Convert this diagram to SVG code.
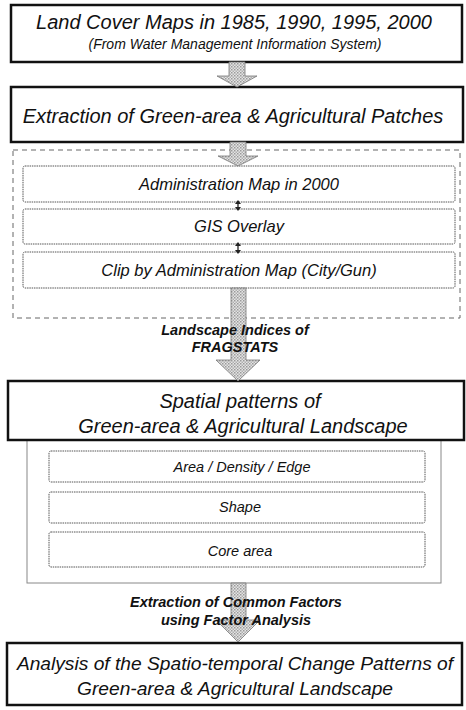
<svg xmlns="http://www.w3.org/2000/svg" width="466" height="710" viewBox="0 0 466 710">
  <defs>
    <pattern id="halftone" width="3" height="3" patternUnits="userSpaceOnUse">
      <rect width="3" height="3" fill="#e4e4e4"/>
      <rect x="0" y="0" width="1.5" height="1.5" fill="#9a9a9a"/>
      <rect x="1.5" y="1.5" width="1.5" height="1.5" fill="#b0b0b0"/>
    </pattern>
  </defs>
  <style>
    text { font-family: "Liberation Sans", Arial, sans-serif; font-style: italic; fill: #111; text-anchor: middle; }
    .main { stroke: #111; stroke-width: 2.5; fill: #fff; }
    .group { stroke: #666; stroke-width: 1; fill: none; stroke-dasharray: 5 4; }
    .frame { stroke: #888; stroke-width: 1; fill: #fff; }
    .step { stroke: #555; stroke-width: 1; fill: #fff; stroke-dasharray: 1.5 0.8; }
    .flow { fill: url(#halftone); stroke: #777; stroke-width: 0.8; }
    .link { stroke: #222; stroke-width: 1.3; fill: none; }
    .head { fill: #222; stroke: none; }
    .big { font-size: 20px; }
    .end { font-size: 19.2px; }
    .mid { font-size: 16.5px; }
    .small { font-size: 14.5px; }
    .sub { font-size: 14px; }
    .note { font-size: 14.5px; font-weight: bold; }
  </style>

  <g id="land-cover">
    <rect class="main" x="11" y="5" width="451" height="57"/>
    <text class="big" x="234" y="29">Land Cover Maps in 1985, 1990, 1995, 2000</text>
    <text class="sub" x="235" y="49">(From Water Management Information System)</text>
  </g>

  <g id="extraction">
    <rect class="main" x="11" y="87" width="452" height="55"/>
    <text class="big" x="233" y="123">Extraction of Green-area &amp; Agricultural Patches</text>
  </g>

  <g id="admin-group">
    <rect class="group" x="13" y="150" width="447" height="168"/>
  </g>

  <g id="admin-map">
    <rect class="step" x="23" y="166" width="432" height="36" rx="2"/>
    <text class="mid" x="239" y="190">Administration Map in 2000</text>
  </g>

  <g id="gis-overlay">
    <rect class="step" x="23" y="209" width="432" height="35" rx="2"/>
    <text class="mid" x="239" y="232">GIS Overlay</text>
  </g>

  <g id="clip">
    <rect class="step" x="23" y="252" width="432" height="36" rx="2"/>
    <text class="mid" x="239" y="276">Clip by Administration Map (City/Gun)</text>
  </g>

  <g id="spatial-frame">
    <rect class="frame" x="27" y="440" width="414" height="143"/>
  </g>

  <g id="spatial-patterns">
    <rect class="main" x="8" y="381" width="456" height="59"/>
    <text class="big" x="240" y="408">Spatial patterns of</text>
    <text class="big" x="243" y="433">Green-area &amp; Agricultural Landscape</text>
  </g>

  <g id="area-density-edge">
    <rect class="step" x="49" y="451" width="376" height="31" rx="2"/>
    <text class="small" x="242" y="472">Area / Density / Edge</text>
  </g>

  <g id="shape">
    <rect class="step" x="49" y="492" width="376" height="31" rx="2"/>
    <text class="small" x="240" y="512">Shape</text>
  </g>

  <g id="core-area">
    <rect class="step" x="49" y="532" width="376" height="35" rx="2"/>
    <text class="small" x="240" y="556">Core area</text>
  </g>

  <g id="change-analysis">
    <rect class="main" x="7" y="643" width="455" height="62"/>
    <text class="end" x="235" y="670">Analysis of the Spatio-temporal Change Patterns of</text>
    <text class="end" x="235" y="695">Green-area &amp; Agricultural Landscape</text>
  </g>

  <g id="connectors">
    <!-- block arrows between the main stages -->
    <path class="flow" d="M229,62 H245 V76 H257 L237,87 L217,76 H229 Z"/>
    <path class="flow" d="M230,142 H246 V156 H258 L238,166 L218,156 H230 Z"/>
    <path class="flow" d="M231,288 H246 V360 H260 L238,381 L216,360 H231 Z"/>
    <path class="flow" d="M231,583 H246 V620 H260 L238,642 L216,620 H231 Z"/>
    <!-- small two-way links inside the overlay group -->
    <line class="link" x1="238" y1="201" x2="238" y2="210"/>
    <path class="head" d="M238,200 L235,204 H241 Z M238,211 L235,207 H241 Z"/>
    <line class="link" x1="238" y1="243" x2="238" y2="253"/>
    <path class="head" d="M238,242 L235,246 H241 Z M238,254 L235,250 H241 Z"/>
    <!-- step labels on the flow -->
    <text class="note" x="235" y="335">Landscape Indices of</text>
    <text class="note" x="235" y="352">FRAGSTATS</text>
    <text class="note" x="236" y="607">Extraction of Common Factors</text>
    <text class="note" x="236" y="625">using Factor Analysis</text>
  </g>
</svg>
